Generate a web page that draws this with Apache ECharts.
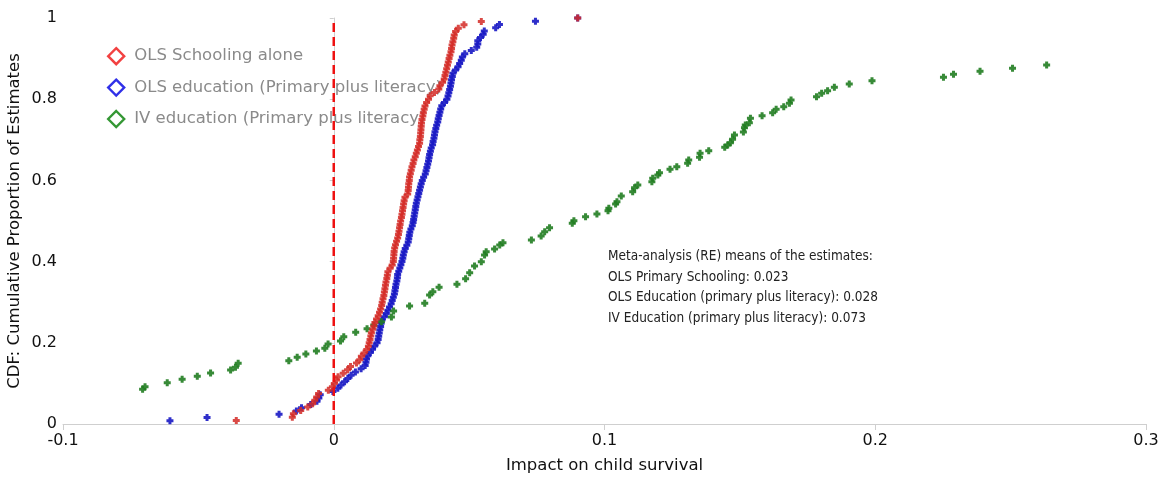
<!DOCTYPE html>
<html>
<head>
<meta charset="utf-8">
<script src="https://cdn.jsdelivr.net/npm/echarts@6/dist/echarts.min.js"></script>
<style>
  html, body { margin: 0; padding: 0; background: #fff; }
  #chart { width: 1165px; height: 478px; }
</style>
</head>
<body>
<div id="chart"></div>
<script>
// Estimates of the impact on child survival, sorted ascending within each group.
const olsSchoolingX = [
  -0.036, -0.0153, -0.0149, -0.0122, -0.0096, -0.0078, -0.007, -0.0063, -0.0056, -0.002,
  -0.0005, 0.0002, 0.001, 0.0016, 0.0035, 0.0051, 0.0062, 0.0084, 0.0096, 0.0102,
  0.0112, 0.0122, 0.0128, 0.0131, 0.0134, 0.0137, 0.0139, 0.0144, 0.0148, 0.0152,
  0.0158, 0.0164, 0.0169, 0.0173, 0.0177, 0.0179, 0.0182, 0.0185, 0.0187, 0.0189,
  0.0191, 0.0193, 0.0196, 0.0198, 0.02, 0.0208, 0.0216, 0.022, 0.0221, 0.0222,
  0.0223, 0.0225, 0.0228, 0.0232, 0.0236, 0.0239, 0.0241, 0.0243, 0.0245, 0.0247,
  0.025, 0.0252, 0.0254, 0.0256, 0.0258, 0.026, 0.0263, 0.0273, 0.0275, 0.0276,
  0.0277, 0.0279, 0.028, 0.0283, 0.0286, 0.0289, 0.0293, 0.0296, 0.0301, 0.0305,
  0.0309, 0.0313, 0.0317, 0.0318, 0.032, 0.0321, 0.0322, 0.0323, 0.0324, 0.0326,
  0.0329, 0.0331, 0.0334, 0.0337, 0.0343, 0.035, 0.0356, 0.0372, 0.0388, 0.0392,
  0.0402, 0.0408, 0.0411, 0.0414, 0.0417, 0.042, 0.0423, 0.0426, 0.0429, 0.0433,
  0.0435, 0.0437, 0.044, 0.0443, 0.0445, 0.045, 0.046, 0.0481, 0.0545, 0.0901
];

const olsEducationX = [
  -0.0605, -0.0468, -0.0202, -0.0138, -0.0119, -0.0085, -0.0062, -0.0055, -0.005, -0.0003,
  0.0015, 0.0027, 0.004, 0.0052, 0.0064, 0.008, 0.0101, 0.0116, 0.0119, 0.0121,
  0.0126, 0.0135, 0.0143, 0.0151, 0.016, 0.0164, 0.0166, 0.0168, 0.017, 0.0173,
  0.0175, 0.0178, 0.0187, 0.0194, 0.02, 0.0206, 0.0212, 0.0216, 0.022, 0.0224,
  0.0226, 0.0228, 0.023, 0.0233, 0.0235, 0.0236, 0.024, 0.0244, 0.0248, 0.0252,
  0.0255, 0.0257, 0.026, 0.0264, 0.027, 0.0275, 0.0277, 0.0279, 0.0281, 0.0285,
  0.029, 0.0293, 0.0295, 0.0297, 0.0299, 0.0301, 0.0303, 0.0305, 0.0308, 0.0311,
  0.0314, 0.0317, 0.032, 0.0323, 0.0327, 0.0332, 0.0338, 0.0341, 0.0344, 0.0347,
  0.035, 0.0352, 0.0354, 0.0357, 0.036, 0.0365, 0.0367, 0.037, 0.0372, 0.0374,
  0.0377, 0.038, 0.0384, 0.0386, 0.0389, 0.0392, 0.0395, 0.0399, 0.0409, 0.0418,
  0.0422, 0.0425, 0.0428, 0.0431, 0.0433, 0.0435, 0.0438, 0.044, 0.045, 0.0459,
  0.0465, 0.0471, 0.0475, 0.0484, 0.0508, 0.0528, 0.0532, 0.0532, 0.0542, 0.0552,
  0.0556, 0.0598, 0.0612, 0.0745, 0.0901
];

// IV estimates: the tails run past both ends of the axis, so the
// cumulative proportions are listed alongside the visible estimates.
const ivEducationX = [
  -0.0706, -0.0697, -0.0615, -0.056, -0.0504, -0.0455, -0.0381, -0.0363, -0.0353, -0.0166,
  -0.0135, -0.0103, -0.0064, -0.0033, -0.0021, 0.0025, 0.0037, 0.0081, 0.0123, 0.0148,
  0.0176, 0.0213, 0.0221, 0.028, 0.0336, 0.0354, 0.0366, 0.0389, 0.0455, 0.0487,
  0.0502, 0.052, 0.0545, 0.0557, 0.0563, 0.0594, 0.0613, 0.0625, 0.073, 0.0766,
  0.0779, 0.0797, 0.0881, 0.0887, 0.093, 0.0972, 0.1013, 0.1016, 0.1041, 0.1046,
  0.1062, 0.1104, 0.1111, 0.1123, 0.1175, 0.1178, 0.1197, 0.1203, 0.1242, 0.1267,
  0.1307, 0.1311, 0.1351, 0.1353, 0.1385, 0.1444, 0.1455, 0.1465, 0.1473, 0.148,
  0.1513, 0.1517, 0.152, 0.1535, 0.1539, 0.1582, 0.1621, 0.1634, 0.1662, 0.1683,
  0.1689, 0.1783, 0.1802, 0.1824, 0.1849, 0.1904, 0.1988, 0.2252, 0.2289, 0.2387,
  0.2507, 0.2633
];
const ivEducationCdf = [
  0.0855, 0.0919, 0.1017, 0.1101, 0.1175, 0.1256, 0.133, 0.1397, 0.1495, 0.1559,
  0.1643, 0.1724, 0.1798, 0.1865, 0.197, 0.2044, 0.215, 0.2259, 0.2347, 0.2438,
  0.252, 0.2635, 0.2783, 0.2906, 0.2973, 0.3177, 0.3259, 0.3367, 0.3441, 0.3579,
  0.3727, 0.3892, 0.3998, 0.4163, 0.4244, 0.431, 0.4409, 0.4466, 0.4532, 0.4631,
  0.4736, 0.4835, 0.4943, 0.5007, 0.5106, 0.5172, 0.5254, 0.5313, 0.5419, 0.5475,
  0.5616, 0.5722, 0.582, 0.5887, 0.5968, 0.6052, 0.6133, 0.619, 0.6273, 0.6337,
  0.6421, 0.6502, 0.6569, 0.6667, 0.6732, 0.6815, 0.6872, 0.6929, 0.7012, 0.7118,
  0.7192, 0.7298, 0.7365, 0.7421, 0.753, 0.7594, 0.7667, 0.7751, 0.7815, 0.7899,
  0.798, 0.8062, 0.8145, 0.8209, 0.8293, 0.8374, 0.8456, 0.8539, 0.8613, 0.8687,
  0.8761, 0.8842
];

const seriesNames = [
  'OLS Schooling alone',
  'OLS education (Primary plus literacy)',
  'IV education (Primary plus literacy)'
];
const seriesColors = ['#d42a26', '#1818c4', '#217d21'];
const legendColors = ['#f02020', '#1a1ae6', '#1e8c1e'];

const metaMeans = [
  ['OLS Primary Schooling', '0.023'],
  ['OLS Education (primary plus literacy)', '0.028'],
  ['IV Education (primary plus literacy)', '0.073']
];

const xTicks = { min: -0.1, max: 0.3, step: 0.1 };
const yTicks = { min: 0, max: 1, step: 0.2 };

// Empirical CDF: each sorted estimate paired with its cumulative share.
function empiricalCdf(values) {
  const n = values.length;
  return values.map((v, i) => [v, (i + 1) / n]);
}

const olsSchoolingPts = empiricalCdf(olsSchoolingX);
const olsEducationPts = empiricalCdf(olsEducationX);
const ivEducationPts = ivEducationX.map((v, i) => [v, ivEducationCdf[i]]);

// small blunt cross used for every estimate
const markerPath = 'path://M2,0H5V2H7V5H5V7H2V5H0V2H2Z';

const chart = echarts.init(document.getElementById('chart'), null, { renderer: 'canvas' });

const axisFont = 'DejaVu Sans';

chart.setOption({
  backgroundColor: '#ffffff',
  animation: false,
  grid: {
    left: 63, right: 19, top: 18, bottom: 54,
    containLabel: false,
    outerBoundsMode: 'none'
  },
  legend: {
    orient: 'vertical',
    left: 102,
    top: 42,
    itemGap: 13,
    itemWidth: 16,
    itemHeight: 16,
    icon: 'diamond',
    textStyle: {
      color: '#8a8a8a', fontSize: 16.5, lineHeight: 16,
      fontFamily: axisFont, padding: [0, 0, 0, 5]
    },
    data: seriesNames.map((name, i) => ({
      name: name,
      itemStyle: { color: 'rgba(255,255,255,0)', borderColor: legendColors[i], borderWidth: 2.4 }
    }))
  },
  xAxis: {
    type: 'value',
    min: xTicks.min,
    max: xTicks.max,
    interval: xTicks.step,
    name: 'Impact on child survival',
    nameLocation: 'middle',
    nameGap: 33,
    nameMoveOverlap: false,
    nameTextStyle: { color: '#111', fontSize: 16.5, fontFamily: axisFont },
    axisLine: { show: true, lineStyle: { color: '#cfcfcf', width: 1 } },
    axisTick: { show: true, length: 6, inside: false, lineStyle: { color: '#cfcfcf' } },
    axisLabel: { color: '#111', fontSize: 16, fontFamily: axisFont, margin: 9 },
    splitLine: { show: false }
  },
  yAxis: {
    type: 'value',
    min: yTicks.min,
    max: yTicks.max,
    interval: yTicks.step,
    name: 'CDF: Cumulative Proportion of Estimates',
    nameLocation: 'middle',
    nameGap: 40,
    nameMoveOverlap: false,
    nameTextStyle: { color: '#111', fontSize: 16.5, fontFamily: axisFont },
    axisLine: { show: true, lineStyle: { color: '#cfcfcf', width: 1 } },
    axisTick: { show: true, length: 4, lineStyle: { color: '#cfcfcf' } },
    axisLabel: { color: '#111', fontSize: 16, fontFamily: axisFont, margin: 6 },
    splitLine: { show: false }
  },
  series: [
    {
      name: seriesNames[0],
      type: 'scatter',
      z: 6,
      symbol: markerPath,
      symbolSize: 7,
      itemStyle: { color: seriesColors[0], opacity: 0.85 },
      data: olsSchoolingPts
    },
    {
      name: seriesNames[1],
      type: 'scatter',
      z: 5,
      symbol: markerPath,
      symbolSize: 7,
      itemStyle: { color: seriesColors[1], opacity: 0.9 },
      data: olsEducationPts
    },
    {
      name: seriesNames[2],
      type: 'scatter',
      z: 5,
      symbol: markerPath,
      symbolSize: 7,
      itemStyle: { color: seriesColors[2], opacity: 0.9 },
      data: ivEducationPts
    },
    {
      // zero-effect reference line
      name: 'zero',
      type: 'line',
      z: 8,
      symbol: 'none',
      silent: true,
      lineStyle: { color: '#ee1111', width: 2.5, type: [9, 5] },
      data: [[0, yTicks.min], [0, yTicks.max]]
    }
  ],
  graphic: [
    {
      type: 'text',
      left: 608,
      top: 246,
      z: 10,
      style: {
        text: ['Meta-analysis (RE) means of the estimates:']
          .concat(metaMeans.map(m => m[0] + ': ' + m[1]))
          .join('\n'),
        fill: '#222',
        fontSize: 13.5,
        fontFamily: 'DejaVu Sans Condensed',
        lineHeight: 20.7
      }
    }
  ]
});
</script>
</body>
</html>
